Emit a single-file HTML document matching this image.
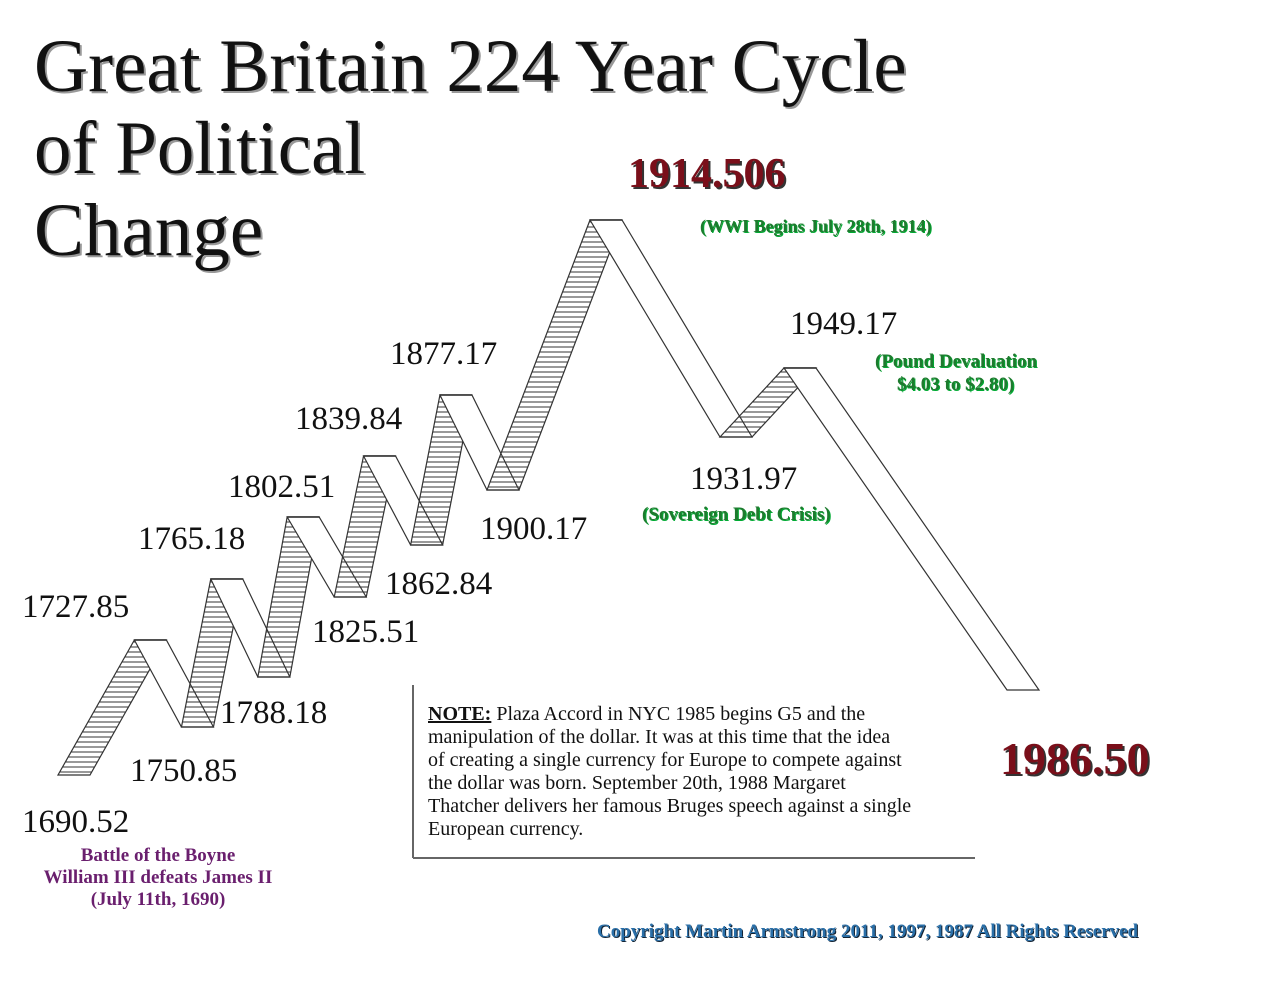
<!DOCTYPE html>
<html><head><meta charset="utf-8"><style>
body{margin:0;background:#fff;}
#wrap{position:relative;width:1280px;height:993px;overflow:hidden;background:#fff;font-family:"Liberation Serif",serif;}
.t{position:absolute;white-space:nowrap;}
.title{font-size:75px;color:#111;left:34px;text-shadow:2px 2px 0 #999;}
.lab{font-size:33px;color:#111;}
.red{color:#7a0f1a;font-weight:bold;font-size:42px;text-shadow:2px 2px 0 #333;}
.grn{color:#1e7a2e;font-weight:bold;font-size:18px;text-shadow:1px 1px 0 #0a3;}
.pur{color:#6a1f6e;font-weight:bold;font-size:19px;text-align:center;}
.note{font-size:20px;line-height:23px;color:#111;left:428px;top:703px;}
</style></head><body>
<div id="wrap">
<div class="t title" style="top:24px">Great Britain 224 Year Cycle</div>
<div class="t title" style="top:106px">of Political</div>
<div class="t title" style="top:188px">Change</div>
<svg id="svg" width="1280" height="993" style="position:absolute;left:0;top:0">
<defs><pattern id="hatch" width="6" height="5" patternUnits="userSpaceOnUse"><line x1="0" y1="2" x2="6" y2="2" stroke="#333" stroke-width="1"/></pattern></defs>
<g id="marks"></g>
<line x1="413" y1="685" x2="413" y2="858" stroke="#666" stroke-width="2"/>
<line x1="413" y1="858" x2="975" y2="858" stroke="#666" stroke-width="2"/>
</svg>
<div class="t lab" style="left:22px;top:804px">1690.52</div>
<div class="t lab" style="left:22px;top:589px">1727.85</div>
<div class="t lab" style="left:130px;top:753px">1750.85</div>
<div class="t lab" style="left:138px;top:521px">1765.18</div>
<div class="t lab" style="left:220px;top:695px">1788.18</div>
<div class="t lab" style="left:228px;top:469px">1802.51</div>
<div class="t lab" style="left:312px;top:614px">1825.51</div>
<div class="t lab" style="left:295px;top:401px">1839.84</div>
<div class="t lab" style="left:385px;top:566px">1862.84</div>
<div class="t lab" style="left:390px;top:336px">1877.17</div>
<div class="t lab" style="left:480px;top:511px">1900.17</div>
<div class="t lab" style="left:690px;top:461px">1931.97</div>
<div class="t lab" style="left:790px;top:306px">1949.17</div>
<div class="t red" style="left:628px;top:150px">1914.506</div>
<div class="t red" style="left:1000px;top:732px;font-size:46px">1986.50</div>
<div class="t grn" style="left:700px;top:216px">(WWI Begins July 28th, 1914)</div>
<div class="t grn" style="left:642px;top:504px;font-size:19px">(Sovereign Debt Crisis)</div>
<div class="t grn" style="left:875px;top:351px;font-size:19px">(Pound Devaluation</div>
<div class="t grn" style="left:897px;top:374px;font-size:19px">$4.03 to $2.80)</div>
<div class="t pur" style="left:22px;top:845px;width:272px;line-height:22px">Battle of the Boyne<br>William III defeats James II<br>(July 11th, 1690)</div>
<div class="t note"><b><u>NOTE:</u></b> Plaza Accord in NYC 1985 begins G5 and the<br>manipulation of the dollar. It was at this time that the idea<br>of creating a single currency for Europe to compete against<br>the dollar was born. September 20th, 1988 Margaret<br>Thatcher delivers her famous Bruges speech against a single<br>European currency.</div>
<div class="t" style="left:597px;top:921px;font-size:19px;font-weight:bold;color:#2a6fa8;text-shadow:1px 1px 0 #123">Copyright Martin Armstrong 2011, 1997, 1987 All Rights Reserved</div>
</div>
<script>
const years=[1690.52,1727.85,1750.85,1765.18,1788.18,1802.51,1825.51,1839.84,1862.84,1877.17,1900.17,1914.506,1931.97,1949.17,1986.5];
const levels=[0,135,48,196,98,258,178,319,230,380,285,555,338,407,85];
const xDomain=[1690.52,1900.17,1914.506,1931.97,1949.17,1986.5];
const xRange=[58,487,590,720,784,1007];
function xScale(yr){for(let i=0;i<xDomain.length-1;i++){if(yr<=xDomain[i+1]||i==xDomain.length-2){const t=(yr-xDomain[i])/(xDomain[i+1]-xDomain[i]);return xRange[i]+t*(xRange[i+1]-xRange[i]);}}}
function yScale(v){return 775-v;}
const W=32;
const g=document.getElementById('marks');
const ns='http://www.w3.org/2000/svg';
for(let i=0;i<years.length-1;i++){
 const x1=xScale(years[i]),y1=yScale(levels[i]),x2=xScale(years[i+1]),y2=yScale(levels[i+1]);
 const up=levels[i+1]>levels[i];
 const p=document.createElementNS(ns,'polygon');
 p.setAttribute('points',`${x1},${y1} ${x1+W},${y1} ${x2+W},${y2} ${x2},${y2}`);
 p.setAttribute('fill',up?'url(#hatch)':'#fff');
 p.setAttribute('stroke','#333');
 p.setAttribute('stroke-width','1.2');
 
 
 g.appendChild(p);
}
for(let i=1;i<years.length-1;i++){
 if(levels[i]>levels[i-1]){
 const x=xScale(years[i]),y=yScale(levels[i]);
 const l=document.createElementNS(ns,'line');
 l.setAttribute('x1',x);l.setAttribute('y1',y);l.setAttribute('x2',x+W);l.setAttribute('y2',y);
 l.setAttribute('stroke','#333');l.setAttribute('stroke-width','1.5');
 
 
 g.appendChild(l);}
}
</script>
</body></html>
